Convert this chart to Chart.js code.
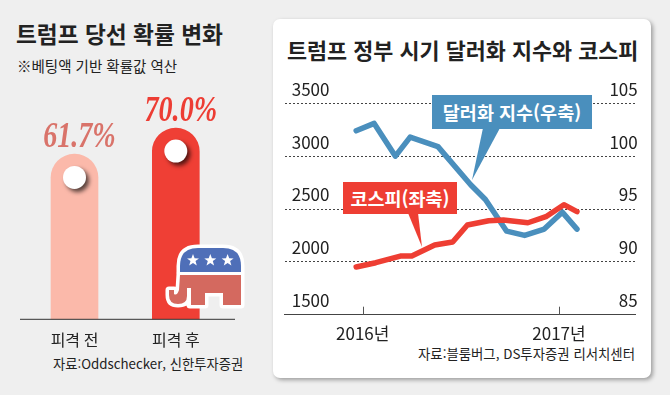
<!DOCTYPE html>
<html lang="ko">
<head>
<meta charset="utf-8">
<title>트럼프 당선 확률 변화</title>
<script src="https://cdn.jsdelivr.net/npm/chart.js@4"></script>
<style>
  html, body { margin: 0; padding: 0; width: 670px; height: 395px; overflow: hidden; background: #efefef; }
  body { position: relative; font-family: "Noto Sans CJK KR", "Noto Sans", sans-serif; color: #222; }
  .abs { position: absolute; white-space: nowrap; line-height: 1; }
  canvas { position: absolute; }
  #panel { position: absolute; left: 273px; top: 19px; width: 378px; height: 359px; background: #fff; border-radius: 7px; box-shadow: 2px 2px 4px rgba(0,0,0,.35); }
  svg { position: absolute; left: 0; top: 0; }
  .callout { position: absolute; color: #fff; font-weight: 700; font-size: 18.5px; display: flex; align-items: center; justify-content: center; white-space: nowrap; }
</style>
</head>
<body>
<div id="panel"></div>
<div class="abs" style="left:16px;top:23px;font-size:22.7px;font-weight:700;">트럼프 당선 확률 변화</div>
<div class="abs" style="left:17px;top:59px;font-size:14.5px;">※베팅액 기반 확률값 역산</div>
<div class="abs" style="left:53px;top:357px;font-size:13.3px;">자료:Oddschecker, 신한투자증권</div>
<div class="abs" style="left:287px;top:39px;font-size:21.8px;font-weight:700;">트럼프 정부 시기 달러화 지수와 코스피</div>
<div class="abs" style="right:35px;top:347px;font-size:13.4px;">자료:블룸버그, DS투자증권 리서치센터</div>

<canvas id="oddsChart" width="270" height="280" style="left:0;top:80px"></canvas>
<canvas id="marketChart" width="370" height="280" style="left:274px;top:80px"></canvas>

<svg width="670" height="395">
  <!-- 말풍선 꼬리 -->
  <polygon points="483,128 500,128 472,180" fill="#4a8fbd"/>
  <polygon points="408,213 418,213 422,247" fill="#ee3e33"/>
  <!-- 공화당 코끼리 -->
  <g fill="#fff" stroke="#fff" stroke-width="7" stroke-linejoin="round">
    <path d="M180,272 V266 Q180,248 198,248 H223 Q241,248 241,266 V272 Z"/>
    <path d="M180,274 H241 V305 H223 V293 H205 V305 H190 V288 H187 V296 Q187,304 178,304 Q169,304 169,295 V290 H174 V294 Q177,296 179,290 Z"/>
  </g>
  <path d="M180,272 V266 Q180,248 198,248 H223 Q241,248 241,266 V272 Z" fill="#4f6fb8"/>
  <path d="M180,275 H241 V305 H223 V293 H205 V305 H191 V288 H187 V296 Q187,304 178,304 Q169,304 169,295 V290 H174 V294 Q177,296 179,290 Z" fill="#d4695f"/>
  <g fill="#fff">
    <path id="star" d="M193,254 L194.6,258.3 L199,258.4 L195.5,261.1 L196.8,265.4 L193,262.9 L189.2,265.4 L190.5,261.1 L187,258.4 L191.4,258.3 Z"/>
    <use href="#star" x="17.3"/>
    <use href="#star" x="34.6"/>
  </g>
</svg>
<div class="callout" style="left:432px;top:95px;width:160px;height:34px;background:#4a8fbd;">달러화 지수(우축)</div>
<div class="callout" style="left:343px;top:182px;width:114px;height:32px;background:#ee3e33;">코스피(좌축)</div>

<script>
const betLabels = ['피격 전', '피격 후'];
const betValues = [61.7, 70.0];
const betMarkers = [54.3, 62.7];
const betValueText = ['61.7%', '70.0%'];

const dollarMonths = [-0.4, 0.7, 2.0, 2.9, 4.6, 6.6, 7.5, 8.8, 9.9, 11.1, 12.2, 13.1];
const dollarValues = [102.4, 103.1, 100.0, 101.8, 100.9, 97.3, 95.9, 92.9, 92.5, 93.1, 94.7, 93.1];
const kospiMonths = [-0.4, 0.8, 2.3, 3.0, 4.4, 5.5, 6.4, 7.7, 8.6, 10.1, 11.2, 12.3, 13.1];
const kospiValues = [1951, 1992, 2055, 2055, 2159, 2188, 2349, 2389, 2396, 2370, 2427, 2541, 2475];

const yearTicks = [0, 12];
const yearLabels = ['2016년', '2017년'];
const leftTicks = [1500, 2000, 2500, 3000, 3500];
const rightTicks = [85, 90, 95, 100, 105];

const FONT = '"Noto Sans CJK KR", "Noto Sans", sans-serif';
const NARROW = '"Liberation Sans Narrow", "Noto Sans CJK KR", sans-serif';

const shadowPlugin = {
  id: 'markerShadow',
  beforeDatasetDraw(chart, args) {
    if (args.index !== 1) return;
    const ctx = chart.ctx;
    ctx.save();
    ctx.shadowColor = 'rgba(0,0,0,.65)';
    ctx.shadowBlur = 4;
    ctx.shadowOffsetX = 3;
    ctx.shadowOffsetY = 3;
  },
  afterDatasetDraw(chart, args) {
    if (args.index === 1) chart.ctx.restore();
  },
};

const oddsDecor = {
  id: 'oddsDecor',
  afterDraw(chart) {
    const ctx = chart.ctx;
    const y = chart.chartArea.bottom;
    ctx.save();
    ctx.strokeStyle = '#333';
    ctx.lineWidth = 1;
    ctx.beginPath();
    ctx.moveTo(20, y);
    ctx.lineTo(235, y);
    ctx.stroke();
    // 값 라벨은 막대 위쪽 기울인 명조체
    const colors = ['#d9736a', '#ed3d34'];
    const bars = chart.getDatasetMeta(0).data;
    bars.forEach((bar, i) => {
      ctx.save();
      ctx.translate(bar.x + 5, bar.y - 7);
      ctx.scale(0.78, 1);
      ctx.font = 'italic 700 36px "Liberation Serif", serif';
      ctx.fillStyle = colors[i];
      ctx.textAlign = 'center';
      ctx.textBaseline = 'alphabetic';
      ctx.fillText(betValueText[i], 0, 0);
      ctx.restore();
    });
    ctx.restore();
  },
};

new Chart(document.getElementById('oddsChart'), {
  data: {
    labels: betLabels,
    datasets: [
      {
        type: 'bar',
        data: betValues,
        backgroundColor: ['#fbb9aa', '#ef3f35'],
        barThickness: 47,
        borderSkipped: 'bottom',
        borderRadius: { topLeft: 24, topRight: 24 },
        order: 2,
      },
      {
        type: 'line',
        data: betMarkers,
        showLine: false,
        pointRadius: 11.5,
        pointHoverRadius: 11.5,
        pointBackgroundColor: '#fff',
        pointBorderWidth: 0,
        order: 1,
        clip: false,
      },
    ],
  },
  plugins: [shadowPlugin, oddsDecor],
  options: {
    responsive: false,
    animation: false,
    layout: { padding: { left: 23.85, right: 43.55, top: 29.4, bottom: 0.7 } },
    plugins: { legend: { display: false }, tooltip: { enabled: false } },
    scales: {
      x: {
        afterFit(s) { s.height = 40; },
        grid: { display: false },
        border: { display: false },
        ticks: { color: '#222', padding: 3, font: { family: FONT, size: 16 } },
      },
      y: { display: false, min: 9, max: 76 },
    },
  },
});

const tickMarks = {
  id: 'tickMarks',
  afterDraw(chart) {
    const ctx = chart.ctx;
    const x = chart.scales.x;
    const bottom = chart.chartArea.bottom;
    ctx.save();
    ctx.strokeStyle = '#555';
    ctx.lineWidth = 1;
    yearTicks.forEach(v => {
      const px = Math.round(x.getPixelForValue(v)) + 0.5;
      ctx.beginPath();
      ctx.moveTo(px, bottom);
      ctx.lineTo(px, bottom - 8);
      ctx.stroke();
    });
    ctx.restore();
  },
};

const toXY = (xs, ys) => xs.map((x, i) => ({ x, y: ys[i] }));

new Chart(document.getElementById('marketChart'), {
  type: 'line',
  data: {
    datasets: [
      {
        data: toXY(kospiMonths, kospiValues),
        yAxisID: 'yLeft',
        borderColor: '#ee3e33',
        borderWidth: 5.5,
        borderCapStyle: 'round',
        borderJoinStyle: 'round',
        pointRadius: 0,
        order: 1,
      },
      {
        data: toXY(dollarMonths, dollarValues),
        yAxisID: 'yRight',
        borderColor: '#4a8fbd',
        borderWidth: 5.5,
        borderCapStyle: 'round',
        borderJoinStyle: 'round',
        pointRadius: 0,
        order: 2,
      },
    ],
  },
  plugins: [tickMarks],
  options: {
    responsive: false,
    animation: false,
    layout: { padding: { left: 10.7, right: 8.3, top: 23.3, bottom: 5.3 } },
    plugins: { legend: { display: false }, tooltip: { enabled: false } },
    scales: {
      x: {
        type: 'linear',
        min: -4.77,
        max: 16.69,
        afterFit(s) { s.height = 40; },
        afterBuildTicks(s) { s.ticks = yearTicks.map(value => ({ value })); },
        grid: { display: false },
        border: { display: true, color: '#444', width: 1 },
        ticks: {
          autoSkip: false,
          maxRotation: 0,
          color: '#222',
          padding: 1,
          font: { family: NARROW, size: 17 },
          callback: v => yearLabels[yearTicks.indexOf(v)],
        },
      },
      yLeft: {
        position: 'left',
        min: 1500,
        max: 3500,
        afterFit(s) { s.width = 0; },
        afterBuildTicks(s) { s.ticks = leftTicks.map(value => ({ value })); },
        grid: { color: '#444', drawTicks: false },
        border: { display: false, dash: [2, 2] },
        ticks: { mirror: true, padding: 7, labelOffset: -14, color: '#222', font: { family: NARROW, size: 17 }, callback: v => String(v) },
      },
      yRight: {
        position: 'right',
        min: 85,
        max: 105,
        afterFit(s) { s.width = 0; },
        afterBuildTicks(s) { s.ticks = rightTicks.map(value => ({ value })); },
        grid: { display: false },
        border: { display: false },
        ticks: { mirror: true, padding: 2, labelOffset: -14, color: '#222', font: { family: NARROW, size: 17 }, callback: v => String(v) },
      },
    },
  },
});
</script>
</body>
</html>
